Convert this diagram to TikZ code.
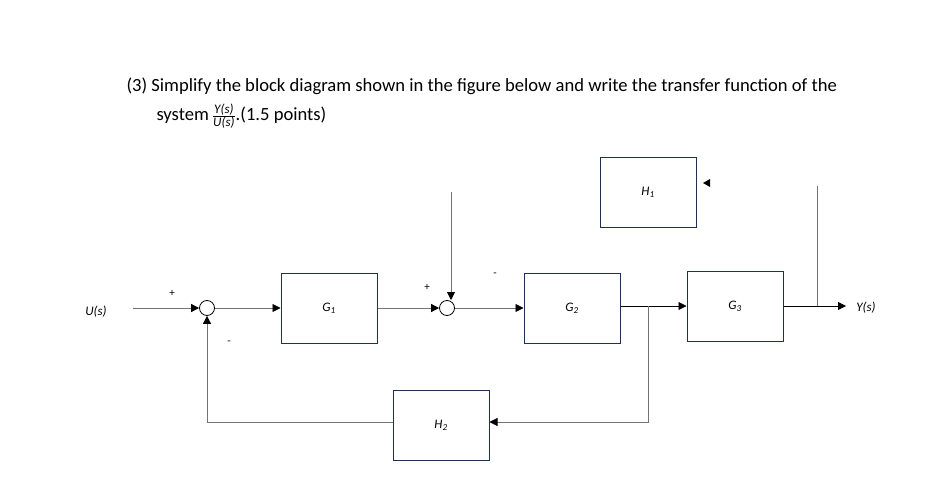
\documentclass[tikz,border=0pt]{standalone}
\usepackage{fontspec}
\setmainfont{Carlito}
\usetikzlibrary{arrows.meta}
\definecolor{bx}{HTML}{1F3350}
\begin{document}
\begin{tikzpicture}[x=1pt,y=-1pt,
  blk/.style={draw=bx,line width=1pt,minimum width=96pt,minimum height=70pt,inner sep=0pt,font=\fontsize{13}{15}\selectfont\itshape},
  sm/.style={draw,circle,minimum size=15pt,inner sep=0pt,line width=0.8pt},
  ln/.style={draw=black!55,line width=0.8pt},
  ar/.style={ln,-{Triangle[length=8pt,width=8pt,color=black]}},
  lab/.style={font=\fontsize{13}{15}\selectfont\itshape},
  sg/.style={font=\fontsize{11}{13}\selectfont}]
\useasboundingbox (0,0) rectangle (947,503);
\node[anchor=west,font=\fontsize{18.6}{21}\selectfont] (t1) at (123,86) {(3) Simplify the block diagram shown in the figure below and write the transfer function of the};
\node[anchor=west,font=\fontsize{18.6}{21}\selectfont] (t2) at (153,116) {system\,$\frac{\textit{\fontsize{13}{14}\selectfont Y(s)}}{\textit{\fontsize{13}{14}\selectfont U(s)}}$.(1.5 points)};
\node[lab] (u) at (96,312) {U(s)};
\node[sm] (s1) at (207,308) {};
\node[sm] (s2) at (447,308) {};
\node[blk] (g1) at (329,308) {G\textsubscript{1}};
\node[blk] (g2) at (572,308) {G\textsubscript{2}};
\node[blk] (g3) at (735,306) {G\textsubscript{3}};
\node[blk] (h1) at (648,192) {H\textsubscript{1}};
\node[blk] (h2) at (441,425) {H\textsubscript{2}};
\node[lab] (y) at (866,308) {Y(s)};
\node[sg] (p1) at (172,293) {+};
\node[sg] (m1) at (229,343) {-};
\node[sg] (p2) at (427,287) {+};
\node[sg] (m2) at (495,275) {-};
\coordinate (uin) at (133,308);
\draw[ar] (uin) -- (s1.west);
\draw[ar] (s1.east) -- (g1.west);
\draw[ar] (g1.east) -- (s2.west);
\coordinate (d2) at (451,192);
\draw[ar] (d2) -- (451,300);
\draw[ar] (s2.east) -- (g2.west);
\draw[ar,draw=black] (g2.east |- 0,306) -- (g3.west);
\coordinate (br) at (648,306);
\coordinate (bb) at (648,422);
\draw[ar] (br) -- (bb) -- (h2.east |- bb);
\coordinate (fb) at (207,422);
\draw[ln] (h2.west |- fb) -- (fb);
\draw[ar] (fb) -- (s1.south);
\coordinate (yo) at (846,306);
\draw[ar,draw=black] (g3.east) -- (yo);
\coordinate (vt) at (817,186);
\coordinate (vb) at (817,306);
\draw[ln] (vt) -- (vb);
\fill (703,183) -- (710,179) -- (710,187) -- cycle;
\end{tikzpicture}
\end{document}
